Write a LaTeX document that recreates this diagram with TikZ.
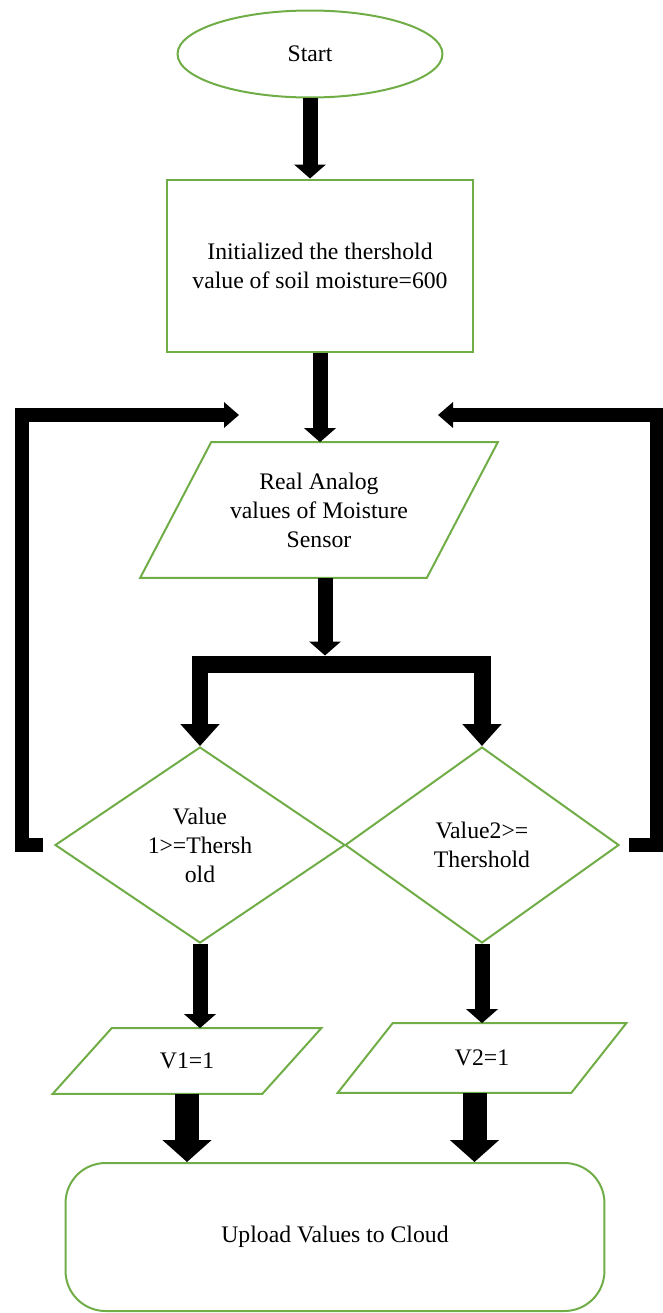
\documentclass[tikz,border=0pt]{standalone}
\usepackage{fontspec}
\setmainfont{Liberation Serif}
\usetikzlibrary{shapes.geometric,arrows.meta,calc}
\definecolor{boxgreen}{RGB}{112,173,71}

\begin{document}
\begin{tikzpicture}[x=0.02cm,y=-0.02cm,
    every node/.style={font=\fontsize{13.5}{16.5}\selectfont,align=center,inner sep=0pt},
    shapebox/.style={draw=boxgreen,line width=0.04cm},
    flow/.style={line width=0.3cm,-{Triangle[length=0.28cm,width=0.62cm]}},
    bigflow/.style={line width=0.48cm,-{Triangle[length=0.44cm,width=0.96cm]}},
    forkline/.style={line width=0.34cm,line join=miter,{Triangle[length=0.44cm,width=0.76cm]}-{Triangle[length=0.44cm,width=0.76cm]}},
    loopline/.style={line width=0.28cm,line join=miter,-{Triangle[length=0.3cm,width=0.5cm]}}]
    \useasboundingbox (0,0) rectangle (663,1313);
    \node [shapebox,ellipse,minimum width=5.3cm,minimum height=1.74cm] (start) at (310,54) {Start};
    \node [shapebox,rectangle,minimum width=6.14cm,minimum height=3.46cm] (init) at (320,266) {Initialized the thershold\\value of soil moisture=600};
    \node [minimum width=7.14cm,minimum height=2.7cm] (sensor) at (319,510) {Real Analog\\values of Moisture\\Sensor};
    \node [shapebox,diamond,minimum width=5.8cm,minimum height=3.92cm] (dec1) at (200,845) {Value\\1>=Thersh\\old};
    \node [shapebox,diamond,minimum width=5.48cm,minimum height=3.92cm] (dec2) at (482,845) {Value2>=\\Thershold};
    \node [minimum width=5.36cm,minimum height=1.3cm] (v1) at (187,1061) {V1=1};
    \node [minimum width=5.76cm,minimum height=1.38cm] (v2) at (482,1058) {V2=1};
    \node [shapebox,rectangle,rounded corners=0.8cm,minimum width=10.78cm,minimum height=2.96cm] (cloud) at (335,1237) {Upload Values to Cloud};
    \draw [shapebox] ([xshift=1.42cm]sensor.north west) -- (sensor.north east) -- ([xshift=-1.42cm]sensor.south east) -- (sensor.south west) -- cycle;
    \draw [shapebox] ([xshift=1.18cm]v1.north west) -- (v1.north east) -- ([xshift=-1.18cm]v1.south east) -- (v1.south west) -- cycle;
    \draw [shapebox] ([xshift=1.1cm]v2.north west) -- (v2.north east) -- ([xshift=-1.1cm]v2.south east) -- (v2.south west) -- cycle;
    \coordinate (fork) at (325,664);
    \coordinate (backL) at (239,415);
    \coordinate (backR) at (438,415);
    \coordinate (dropR) at ([xshift=-0.15cm]v2.south);
    \draw [flow] (start.south) -- (start.south |- init.north);
    \draw [flow] (init.south) -- (init.south |- sensor.north);
    \draw [flow,shorten >=0.17cm] (sensor.south -| fork) -- (fork);
    \draw [forkline] (dec1.north) |- (fork) -| (dec2.north);
    \draw [loopline] ($(dec1.west)+(-11,0)$) -- ++(-21,0) |- (backL);
    \draw [loopline] ($(dec2.east)+(9,0)$) -- ++(28,0) |- (backR);
    \draw [flow] (dec1.south) -- (dec1.south |- v1.north);
    \draw [flow] (dec2.south) -- (dec2.south |- v2.north);
    \draw [bigflow] (v1.south) -- (v1.south |- cloud.north);
    \draw [bigflow] (dropR) -- (dropR |- cloud.north);
\end{tikzpicture}
\end{document}
